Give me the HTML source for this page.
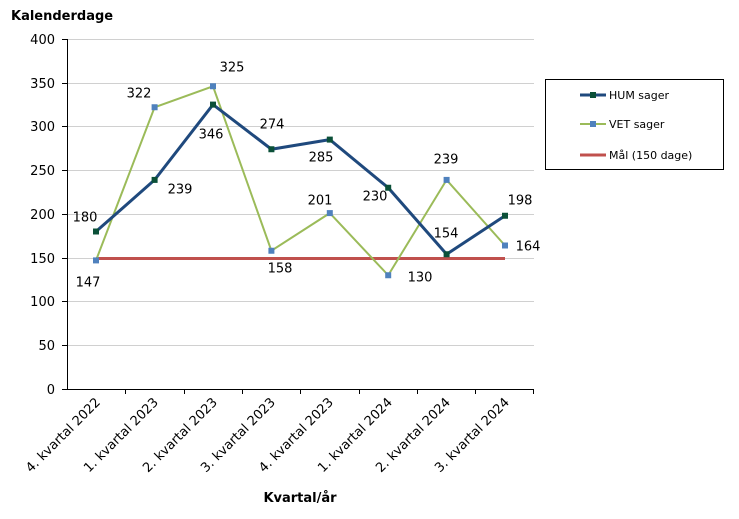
<!DOCTYPE html>
<html><head><meta charset="utf-8"><style>
body{margin:0;background:#fff}
svg{display:block;font-family:"DejaVu Sans","Liberation Sans",sans-serif}
</style></head><body>
<svg width="739" height="519" viewBox="0 0 739 519">
<g stroke="#d0d0d0" stroke-width="1">
<line x1="67" x2="534" y1="39.5" y2="39.5"/>
<line x1="67" x2="534" y1="83.5" y2="83.5"/>
<line x1="67" x2="534" y1="126.5" y2="126.5"/>
<line x1="67" x2="534" y1="170.5" y2="170.5"/>
<line x1="67" x2="534" y1="214.5" y2="214.5"/>
<line x1="67" x2="534" y1="258.5" y2="258.5"/>
<line x1="67" x2="534" y1="301.5" y2="301.5"/>
<line x1="67" x2="534" y1="345.5" y2="345.5"/>
</g>
<g stroke="#000" stroke-width="1">
<line x1="67.5" x2="67.5" y1="39" y2="390"/>
<line x1="67" x2="534" y1="389.5" y2="389.5"/>
<line x1="62" x2="67" y1="39.5" y2="39.5"/><line x1="62" x2="67" y1="83.5" y2="83.5"/><line x1="62" x2="67" y1="126.5" y2="126.5"/><line x1="62" x2="67" y1="170.5" y2="170.5"/><line x1="62" x2="67" y1="214.5" y2="214.5"/><line x1="62" x2="67" y1="258.5" y2="258.5"/><line x1="62" x2="67" y1="301.5" y2="301.5"/><line x1="62" x2="67" y1="345.5" y2="345.5"/><line x1="62" x2="67" y1="389.5" y2="389.5"/>
<line x1="125.5" x2="125.5" y1="389" y2="394"/><line x1="184.5" x2="184.5" y1="389" y2="394"/><line x1="242.5" x2="242.5" y1="389" y2="394"/><line x1="300.5" x2="300.5" y1="389" y2="394"/><line x1="359.5" x2="359.5" y1="389" y2="394"/><line x1="417.5" x2="417.5" y1="389" y2="394"/><line x1="475.5" x2="475.5" y1="389" y2="394"/><line x1="533.5" x2="533.5" y1="389" y2="394"/>
</g>
<g font-size="13" text-anchor="end" fill="#000">
<text x="55" y="44">400</text><text x="55" y="88">350</text><text x="55" y="131">300</text><text x="55" y="175">250</text><text x="55" y="219">200</text><text x="55" y="263">150</text><text x="55" y="306">100</text><text x="55" y="350">50</text><text x="55" y="394">0</text>
</g>
<g font-size="13" text-anchor="end">
<text transform="translate(101,403) rotate(-45)">4. kvartal 2022</text>
<text transform="translate(159,403) rotate(-45)">1. kvartal 2023</text>
<text transform="translate(218,403) rotate(-45)">2. kvartal 2023</text>
<text transform="translate(276,403) rotate(-45)">3. kvartal 2023</text>
<text transform="translate(334,403) rotate(-45)">4. kvartal 2023</text>
<text transform="translate(393,403) rotate(-45)">1. kvartal 2024</text>
<text transform="translate(451,403) rotate(-45)">2. kvartal 2024</text>
<text transform="translate(510,403) rotate(-45)">3. kvartal 2024</text>
</g>
<text x="11" y="20" font-size="13" font-weight="bold">Kalenderdage</text>
<text x="300" y="502" font-size="13" font-weight="bold" text-anchor="middle">Kvartal/år</text>
<line x1="96" x2="505" y1="258.5" y2="258.5" stroke="#c0504d" stroke-width="3"/>
<polyline fill="none" stroke="#9bbb59" stroke-width="2" points="96,260.4 154.6,107.25 213,86.25 271.4,250.75 329.8,213.1 388.2,275.25 446.6,179.9 505,245.5"/>
<polyline fill="none" stroke="#1f497d" stroke-width="3" points="96,231.5 154.6,179.9 213,104.6 271.4,149.25 329.8,139.6 388.2,187.75 446.6,254.25 505,215.75"/>
<g fill="#4f81bd">
<rect x="93" y="257.4" width="6" height="6"/><rect x="151.6" y="104.25" width="6" height="6"/><rect x="210" y="83.25" width="6" height="6"/><rect x="268.4" y="247.75" width="6" height="6"/><rect x="326.8" y="210.1" width="6" height="6"/><rect x="385.2" y="272.25" width="6" height="6"/><rect x="443.6" y="176.9" width="6" height="6"/><rect x="502" y="242.5" width="6" height="6"/>
</g>
<g fill="#0b5038">
<rect x="93" y="228.5" width="6" height="6"/><rect x="151.6" y="176.9" width="6" height="6"/><rect x="210" y="101.6" width="6" height="6"/><rect x="268.4" y="146.25" width="6" height="6"/><rect x="326.8" y="136.6" width="6" height="6"/><rect x="385.2" y="184.75" width="6" height="6"/><rect x="443.6" y="251.25" width="6" height="6"/><rect x="502" y="212.75" width="6" height="6"/>
</g>
<g font-size="13" text-anchor="middle" dominant-baseline="middle">
<text x="85" y="218">180</text><text x="88" y="283">147</text><text x="139" y="94">322</text><text x="180" y="190">239</text><text x="211" y="135">346</text><text x="232" y="68">325</text><text x="272" y="125">274</text><text x="280" y="269">158</text><text x="321" y="158">285</text><text x="320" y="201">201</text><text x="375" y="197">230</text><text x="420" y="278">130</text><text x="446" y="160">239</text><text x="446" y="234">154</text><text x="520" y="201">198</text><text x="528" y="247">164</text>
</g>
<rect x="545.5" y="79.5" width="178" height="90" fill="none" stroke="#000"/>
<line x1="580" x2="606" y1="95" y2="95" stroke="#1f497d" stroke-width="3"/><rect x="590" y="92" width="6" height="6" fill="#0b5038"/>
<line x1="580" x2="606" y1="124" y2="124" stroke="#9bbb59" stroke-width="2"/><rect x="590" y="121" width="6" height="6" fill="#4f81bd"/>
<line x1="580" x2="606" y1="155" y2="155" stroke="#c0504d" stroke-width="3"/>
<g font-size="11" dominant-baseline="middle">
<text x="609" y="96">HUM sager</text><text x="609" y="125">VET sager</text><text x="609" y="156">Mål (150 dage)</text>
</g>
</svg>
</body></html>
